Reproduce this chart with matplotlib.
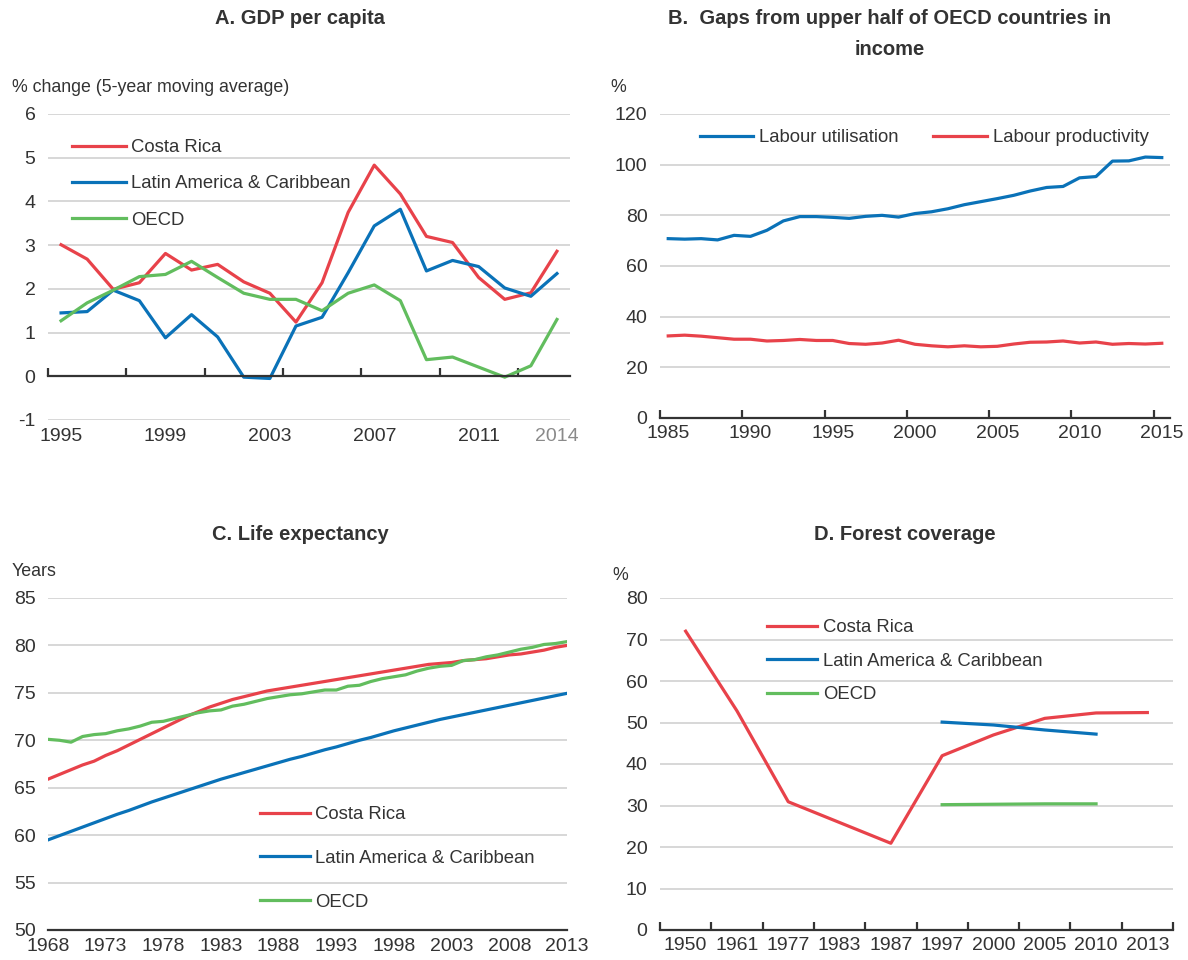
import matplotlib
matplotlib.use("Agg")
import matplotlib.pyplot as plt

# ==========================================================
# Data
# ==========================================================

# A. GDP per capita (% change, 5-year moving average)
gdp_years = list(range(1995, 2015))
gdp_costa_rica = [3.01, 2.68, 1.99, 2.14, 2.81, 2.43, 2.56, 2.16, 1.90, 1.24,
                  2.14, 3.75, 4.83, 4.17, 3.20, 3.06, 2.26, 1.76, 1.91, 2.86]
gdp_lac = [1.45, 1.48, 1.97, 1.73, 0.88, 1.41, 0.90, -0.02, -0.05, 1.15,
           1.35, 2.37, 3.44, 3.82, 2.41, 2.65, 2.51, 2.02, 1.83, 2.35]
gdp_oecd = [1.27, 1.68, 1.97, 2.28, 2.33, 2.63, 2.26, 1.90, 1.76, 1.76,
            1.50, 1.90, 2.09, 1.73, 0.38, 0.44, 0.21, -0.02, 0.24, 1.30]
gdp_tick_labels = [1995, 1999, 2003, 2007, 2011, 2014]

# B. Gaps from upper half of OECD countries in income (%)
gap_years = list(range(1985, 2016))
labour_utilisation = [70.8, 70.6, 70.8, 70.3, 72.1, 71.7, 74.1, 77.8, 79.5, 79.5,
                      79.2, 78.8, 79.6, 80.0, 79.3, 80.7, 81.4, 82.6, 84.2, 85.4,
                      86.6, 87.9, 89.6, 91.0, 91.4, 94.8, 95.3, 101.4, 101.5, 103.0,
                      102.8]
labour_productivity = [32.4, 32.7, 32.3, 31.7, 31.1, 31.1, 30.4, 30.6, 31.0, 30.6,
                       30.6, 29.4, 29.1, 29.6, 30.7, 29.1, 28.5, 28.1, 28.5, 28.1,
                       28.3, 29.2, 29.9, 30.0, 30.4, 29.6, 30.0, 29.1, 29.4, 29.2,
                       29.5]
gap_tick_labels = [1985, 1990, 1995, 2000, 2005, 2010, 2015]

# C. Life expectancy (years)
life_years = list(range(1968, 2014))
life_costa_rica = [65.9, 66.4, 66.9, 67.4, 67.8, 68.4, 68.9, 69.5, 70.1, 70.7,
                   71.3, 71.9, 72.5, 73.0, 73.5, 73.9, 74.3, 74.6, 74.9, 75.2,
                   75.4, 75.6, 75.8, 76.0, 76.2, 76.4, 76.6, 76.8, 77.0, 77.2,
                   77.4, 77.6, 77.8, 78.0, 78.1, 78.2, 78.4, 78.5, 78.6, 78.8,
                   79.0, 79.1, 79.3, 79.5, 79.8, 80.0]
life_lac = [59.5, 59.95, 60.4, 60.85, 61.3, 61.75, 62.2, 62.6, 63.05, 63.5,
            63.9, 64.3, 64.7, 65.1, 65.5, 65.9, 66.25, 66.6, 66.95, 67.3,
            67.65, 68.0, 68.3, 68.65, 69.0, 69.3, 69.65, 70.0, 70.3, 70.65,
            71.0, 71.3, 71.6, 71.9, 72.2, 72.45, 72.7, 72.95, 73.2, 73.45,
            73.7, 73.95, 74.2, 74.45, 74.7, 74.95]
life_oecd = [70.1, 70.0, 69.8, 70.4, 70.6, 70.7, 71.0, 71.2, 71.5, 71.9,
             72.0, 72.3, 72.6, 72.9, 73.1, 73.2, 73.6, 73.8, 74.1, 74.4,
             74.6, 74.8, 74.9, 75.1, 75.3, 75.3, 75.7, 75.8, 76.2, 76.5,
             76.7, 76.9, 77.3, 77.6, 77.8, 77.9, 78.4, 78.5, 78.8, 79.0,
             79.3, 79.6, 79.8, 80.1, 80.2, 80.4]
life_tick_labels = list(range(1968, 2014, 5))

# D. Forest coverage (%)
forest_years = ["1950", "1961", "1977", "1983", "1987", "1997", "2000", "2005", "2010", "2013"]
forest_costa_rica = [72.0, 52.8, 30.9, 25.9, 20.9, 42.0, 47.0, 51.0, 52.3, 52.4]
forest_lac_years = ["1997", "2000", "2005", "2010"]
forest_lac = [50.1, 49.4, 48.2, 47.2]
forest_oecd_years = ["1997", "2000", "2005", "2010"]
forest_oecd = [30.2, 30.3, 30.4, 30.4]

# ==========================================================
# Style
# ==========================================================

RED = "#E8424A"
BLUE = "#0A72B8"
GREEN = "#62BD5E"
TEXT = "#333333"
GRID = "#D4D4D4"
LW = 2.3
FS = 14          # tick labels
LEG = 13.3       # legend
UNIT = 12.8      # unit labels above the axes
TITLE = 14.5

plt.rcParams["font.family"] = ["Liberation Sans", "DejaVu Sans"]
plt.rcParams["axes.unicode_minus"] = False
plt.rcParams["text.color"] = TEXT
plt.rcParams["xtick.color"] = TEXT
plt.rcParams["ytick.color"] = TEXT
plt.rcParams["xtick.labelcolor"] = TEXT
plt.rcParams["ytick.labelcolor"] = TEXT

fig = plt.figure(figsize=(11.88, 9.6), dpi=100)

W, H = 1188.0, 960.0


def make_axes(left, right, top, bottom):
    return fig.add_axes([left / W, 1 - bottom / H, (right - left) / W, (bottom - top) / H])


def style_axes(ax):
    for side in ["top", "right", "left"]:
        ax.spines[side].set_visible(False)
    ax.spines["bottom"].set_color(TEXT)
    ax.spines["bottom"].set_linewidth(1.6)
    ax.yaxis.grid(True, color=GRID, linewidth=1.3)
    ax.set_axisbelow(True)
    ax.tick_params(axis="y", length=0, labelsize=FS, pad=9)
    ax.tick_params(axis="x", which="major", length=0, labelsize=FS, pad=5)
    ax.tick_params(axis="x", which="minor", direction="in", length=6,
                   width=1.6, color=TEXT)


# ==========================================================
# Panel A
# ==========================================================

ax = make_axes(48, 570, 114, 420)
style_axes(ax)
ax.plot(gdp_years, gdp_costa_rica, color=RED, lw=LW, label="Costa Rica")
ax.plot(gdp_years, gdp_lac, color=BLUE, lw=LW, label="Latin America & Caribbean")
ax.plot(gdp_years, gdp_oecd, color=GREEN, lw=LW, label="OECD")
ax.set_xlim(gdp_years[0] - 0.5, gdp_years[-1] + 0.5)
ax.set_ylim(-1, 6)
ax.set_yticks(range(-1, 7))
ax.spines["bottom"].set_position(("data", 0))
ax.set_xticks([])
ax.set_xticks([y - 0.5 for y in gdp_years[::3]], minor=True)
ax.tick_params(axis="x", which="minor", labelbottom=False)

# year labels sit below the -1 gridline, the axis line itself is at 0
sec = ax.secondary_xaxis(0.0)
sec.spines["bottom"].set_visible(False)
sec.set_xticks(gdp_tick_labels, [str(y) for y in gdp_tick_labels])
sec.tick_params(length=0, labelsize=FS, pad=6)
sec.get_xticklabels()[-1].set_color("#8A8A8A")

ax.legend(loc="upper left", bbox_to_anchor=(0.046, 0.918), frameon=False,
          fontsize=LEG, handlelength=2.9, handletextpad=0.3, labelspacing=1.05,
          borderpad=0, borderaxespad=0)

fig.text(300 / W, 1 - 18 / H, "A. GDP per capita", ha="center", va="center",
         fontsize=TITLE, fontweight="bold")
fig.text(12 / W, 1 - 88 / H, "% change (5-year moving average)", ha="left",
         va="center", fontsize=UNIT)

# ==========================================================
# Panel B
# ==========================================================

ax = make_axes(660, 1170, 114, 418)
style_axes(ax)
ax.plot(gap_years, labour_utilisation, color=BLUE, lw=LW, label="Labour utilisation")
ax.plot(gap_years, labour_productivity, color=RED, lw=LW, label="Labour productivity")
ax.set_xlim(gap_years[0] - 0.5, gap_years[-1] + 0.5)
ax.set_ylim(0, 120)
ax.set_yticks(range(0, 121, 20))
ax.set_xticks(gap_tick_labels, [str(y) for y in gap_tick_labels])
ax.set_xticks([y - 0.5 for y in gap_tick_labels], minor=True)
ax.legend(loc="upper left", bbox_to_anchor=(0.078, 0.95), frameon=False,
          fontsize=LEG, ncol=2, handlelength=2.9, handletextpad=0.3,
          columnspacing=1.9, borderpad=0, borderaxespad=0)

fig.text(890 / W, 1 - 34 / H, "B.  Gaps from upper half of OECD countries in\nincome",
         ha="center", va="center", fontsize=TITLE, fontweight="bold", linespacing=1.75)
fig.text(610 / W, 1 - 88 / H, "%", ha="left", va="center", fontsize=UNIT)

# ==========================================================
# Panel C
# ==========================================================

ax = make_axes(48, 567, 598, 930)
style_axes(ax)
ax.plot(life_years, life_costa_rica, color=RED, lw=LW, label="Costa Rica")
ax.plot(life_years, life_lac, color=BLUE, lw=LW, label="Latin America & Caribbean")
ax.plot(life_years, life_oecd, color=GREEN, lw=LW, label="OECD")
ax.set_xlim(life_years[0], life_years[-1])
ax.set_ylim(50, 85)
ax.set_yticks(range(50, 86, 5))
ax.set_xticks(life_tick_labels, [str(y) for y in life_tick_labels])
ax.set_xticks(life_tick_labels, minor=True)
ax.tick_params(axis="x", which="major", pad=6)
ax.legend(loc="upper left", bbox_to_anchor=(0.408, 0.373), frameon=False,
          fontsize=LEG, handlelength=2.7, handletextpad=0.3, labelspacing=1.45,
          borderpad=0, borderaxespad=0)

fig.text(300 / W, 1 - 535 / H, "C. Life expectancy", ha="center", va="center",
         fontsize=TITLE, fontweight="bold")
fig.text(12 / W, 1 - 572 / H, "Years", ha="left", va="center", fontsize=UNIT)

# ==========================================================
# Panel D
# ==========================================================

ax = make_axes(660, 1173, 598, 930)
style_axes(ax)
pos = {label: i for i, label in enumerate(forest_years)}
ax.plot([pos[y] for y in forest_years], forest_costa_rica, color=RED, lw=LW,
        label="Costa Rica")
ax.plot([pos[y] for y in forest_lac_years], forest_lac, color=BLUE, lw=LW,
        label="Latin America & Caribbean")
ax.plot([pos[y] for y in forest_oecd_years], forest_oecd, color=GREEN, lw=LW,
        label="OECD")
ax.set_xlim(-0.5, len(forest_years) - 0.5)
ax.set_ylim(0, 80)
ax.set_yticks(range(0, 81, 10))
ax.set_xticks(range(len(forest_years)), forest_years)
ax.set_xticks([i - 0.5 for i in range(len(forest_years) + 1)], minor=True)
ax.legend(loc="upper left", bbox_to_anchor=(0.209, 0.936), frameon=False,
          fontsize=LEG, handlelength=2.7, handletextpad=0.3, labelspacing=0.9,
          borderpad=0, borderaxespad=0)

fig.text(905 / W, 1 - 535 / H, "D. Forest coverage", ha="center", va="center",
         fontsize=TITLE, fontweight="bold")
fig.text(612 / W, 1 - 575 / H, "%", ha="left", va="center", fontsize=UNIT)

fig.savefig("out.png", dpi=100)
